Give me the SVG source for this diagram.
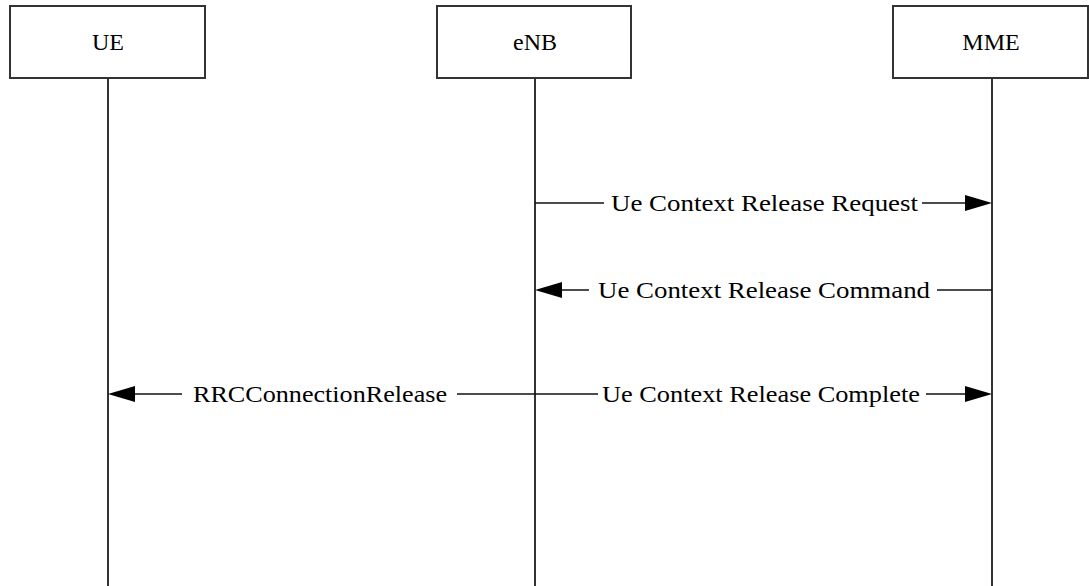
<svg xmlns="http://www.w3.org/2000/svg" width="1089" height="586" viewBox="0 0 1089 586">
<style>
.box{fill:#fff;stroke:#333;stroke-width:2}
.life{stroke:#333;stroke-width:2;fill:none}
.msg{stroke:#111;stroke-width:1.5;fill:none}
.head{fill:#000}
text{font-family:"Liberation Serif","Times New Roman",serif;font-size:24px;fill:#000;text-anchor:middle}
</style>
<rect width="1089" height="586" fill="#fff"/>
<g id="UE">
<rect class="box" x="10" y="6" width="195" height="72"/>
<line class="life" x1="108" y1="78" x2="108" y2="586"/>
<text x="108" y="50">UE</text>
</g>
<g id="eNB">
<rect class="box" x="437" y="6" width="194" height="72"/>
<line class="life" x1="535" y1="78" x2="535" y2="586"/>
<text x="535" y="50">eNB</text>
</g>
<g id="MME">
<rect class="box" x="893" y="6" width="195" height="72"/>
<line class="life" x1="992" y1="78" x2="992" y2="586"/>
<text x="991" y="50">MME</text>
</g>
<g id="connectors">
<g id="m1">
<line class="msg" x1="535" y1="203" x2="604" y2="203"/>
<line class="msg" x1="922" y1="203" x2="966" y2="203"/>
<polygon class="head" points="965,195 992,203 965,211"/>
<text x="764.5" y="211" textLength="307" lengthAdjust="spacingAndGlyphs">Ue Context Release Request</text>
</g>
<g id="m2">
<line class="msg" x1="561" y1="290" x2="589" y2="290"/>
<line class="msg" x1="937" y1="290" x2="992" y2="290"/>
<polygon class="head" points="535,290 562,282 562,298"/>
<text x="764" y="298" textLength="332" lengthAdjust="spacingAndGlyphs">Ue Context Release Command</text>
</g>
<g id="m3">
<line class="msg" x1="134" y1="394" x2="182" y2="394"/>
<line class="msg" x1="457" y1="394" x2="535" y2="394"/>
<polygon class="head" points="108,394 135,386 135,402"/>
<text x="320" y="402" textLength="254" lengthAdjust="spacingAndGlyphs">RRCConnectionRelease</text>
</g>
<g id="m4">
<line class="msg" x1="535" y1="394" x2="598" y2="394"/>
<line class="msg" x1="926" y1="394" x2="966" y2="394"/>
<polygon class="head" points="965,386 992,394 965,402"/>
<text x="761" y="402" textLength="318" lengthAdjust="spacingAndGlyphs">Ue Context Release Complete</text>
</g>
</g>
</svg>
